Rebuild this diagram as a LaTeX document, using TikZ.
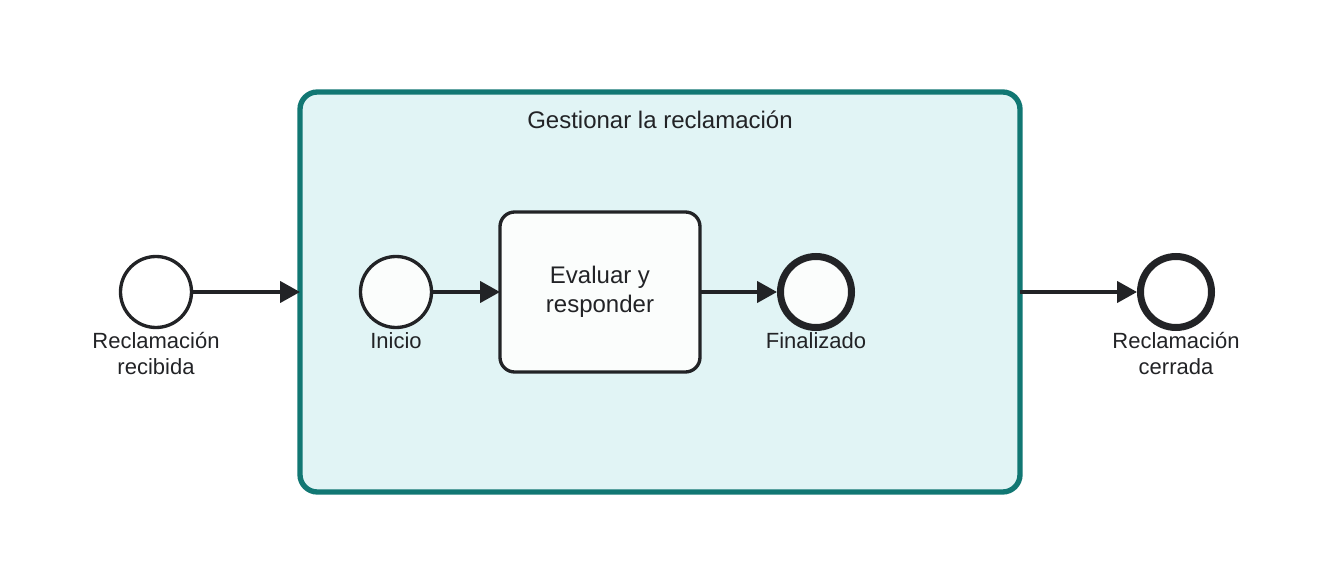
\documentclass[tikz,border=0pt]{standalone}
\usepackage{fontspec}
\setmainfont{Liberation Sans}
\usetikzlibrary{arrows.meta}
\definecolor{ink}{HTML}{222326}
\definecolor{teal}{HTML}{117773}
\definecolor{subfill}{HTML}{E1F4F5}
\definecolor{evfill}{HTML}{FBFDFC}
\tikzset{
  evstart/.style={circle, draw=ink, line width=2.5pt, fill=evfill, minimum size=53.25pt, inner sep=0pt},
  evend/.style={circle, draw=ink, line width=5.25pt, fill=evfill, minimum size=53.25pt, inner sep=0pt},
  taskbox/.style={draw=ink, line width=2.5pt, fill=evfill, rounded corners=11pt, minimum width=150pt, minimum height=120pt, inner sep=0pt, outer sep=0pt, align=center, font=\fontsize{18pt}{21.75pt}\selectfont, text=ink},
  subbox/.style={draw=teal, line width=4pt, fill=subfill, rounded corners=13pt, minimum width=540pt, minimum height=300pt, inner sep=0pt, outer sep=0pt},
  lbl/.style={align=center, font=\fontsize{16.5pt}{19.5pt}\selectfont, text=ink, inner sep=0pt},
  flow/.style={draw=ink, line width=2.5pt, -{Triangle[length=15pt,width=16pt]}},
}
\begin{document}
\begin{tikzpicture}[x=0.75pt,y=-0.75pt]
\useasboundingbox (0,0) rectangle (1332,584);
\node[subbox] (sub) at (660,292) {};
\node[font=\fontsize{18pt}{21pt}\selectfont, text=ink] (title) at (660,120) {Gestionar la reclamación};
\node[evstart, fill=white] (s0) at (156,292) {};
\node[evstart] (s1) at (396,292) {};
\node[taskbox] (task) at (600,292) {Evaluar y\\responder};
\node[evend] (e1) at (816,292) {};
\node[evend, fill=white] (e0) at (1176,292) {};
\node[lbl] (l0) at (156,354) {Reclamación\\recibida};
\node[lbl] (l1) at (396,341) {Inicio};
\node[lbl] (l2) at (816,341) {Finalizado};
\node[lbl] (l3) at (1176,354) {Reclamación\\cerrada};
\draw[flow] (s0) -- (sub.west |- s0);
\draw[flow] (s1) -- (task);
\draw[flow] (task) -- (e1);
\draw[flow] (sub.east |- e0) -- (e0);
\end{tikzpicture}
\end{document}
